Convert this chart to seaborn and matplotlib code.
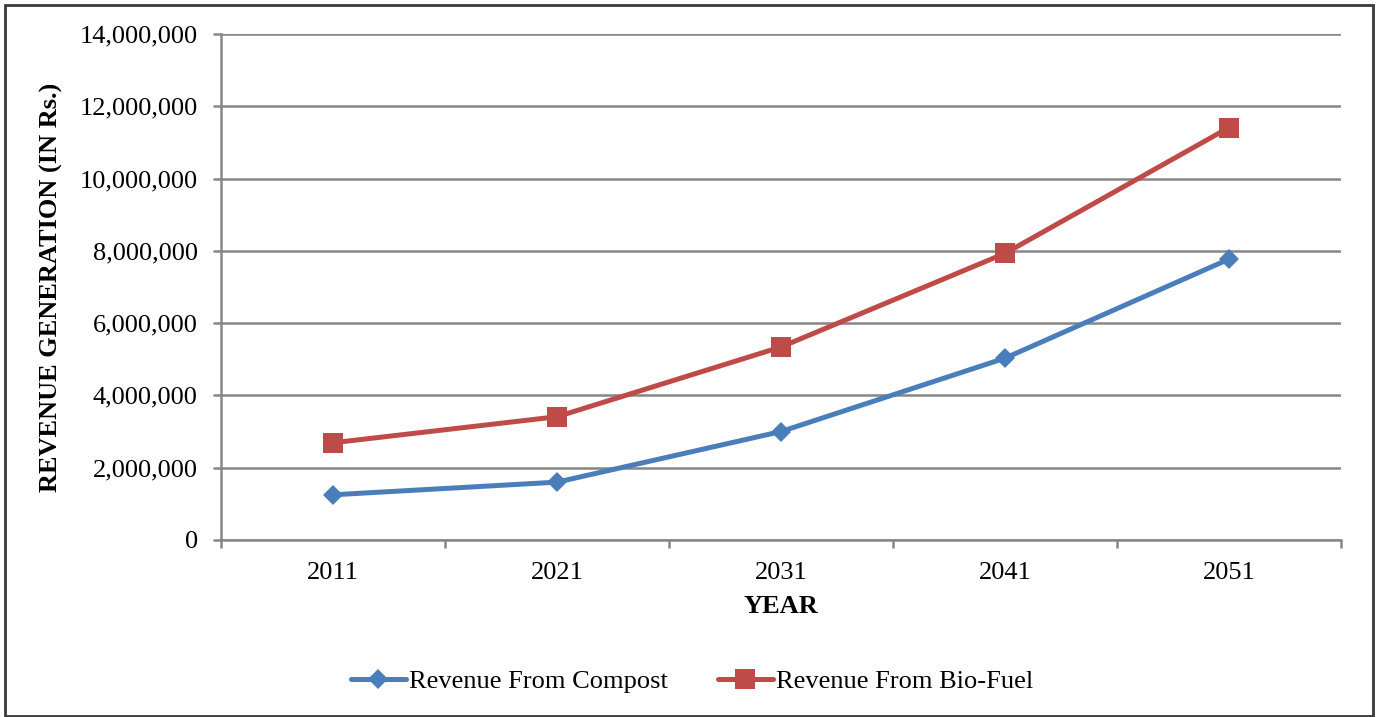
import numpy as np
import pandas as pd
import matplotlib
matplotlib.use("Agg")
import matplotlib.pyplot as plt
import seaborn as sns
from matplotlib.patches import Rectangle
from matplotlib.ticker import FuncFormatter, FixedLocator

years = ["2011", "2021", "2031", "2041", "2051"]
compost = [1250000, 1600000, 3000000, 5030000, 7770000]
biofuel = [2690000, 3410000, 5340000, 7930000, 11410000]

sns.set_style("white")
plt.rcParams["font.family"] = ["Liberation Serif", "DejaVu Serif"]
plt.rcParams["text.color"] = "black"
plt.rcParams["axes.labelcolor"] = "black"
plt.rcParams["xtick.labelcolor"] = "black"
plt.rcParams["ytick.labelcolor"] = "black"

fig = plt.figure(figsize=(13.78, 7.17), dpi=100)
ax = fig.add_axes([0.1604, 0.2469, 0.8127, 0.7057])

df = pd.DataFrame({"year": years, "Revenue From Compost": compost, "Revenue From Bio-Fuel": biofuel})

sns.lineplot(data=df, x="year", y="Revenue From Compost", ax=ax, color="#4A7EBB",
             linewidth=3.6, marker="D", markersize=10, markeredgewidth=0,
             label="Revenue From Compost", sort=False)
sns.lineplot(data=df, x="year", y="Revenue From Bio-Fuel", ax=ax, color="#BE4B48",
             linewidth=3.6, marker="s", markersize=14, markeredgewidth=0,
             label="Revenue From Bio-Fuel", sort=False)

ax.set_xlim(-0.5, 4.5)
ax.set_ylim(0, 14000000)
ax.set_yticks(np.arange(0, 14000001, 2000000))
ax.yaxis.set_major_formatter(FuncFormatter(lambda v, p: f"{int(v):,}"))
ax.yaxis.grid(True, color="#878787", linewidth=1.8)
ax.set_axisbelow(True)

# category ticks between groups, labels at centres
ax.xaxis.set_major_locator(FixedLocator(range(5)))
ax.xaxis.set_minor_locator(FixedLocator(np.arange(-0.5, 5, 1)))
ax.tick_params(axis="x", which="major", length=0, pad=16, labelsize=19)
ax.tick_params(axis="x", which="minor", length=5.8, width=1.8, color="#878787", direction="out")
ax.tick_params(axis="y", which="major", length=5.8, width=1.8, color="#878787", direction="out",
               labelsize=19, pad=11)
ax.tick_params(bottom=True, left=True, which="both")

for side in ["top", "right"]:
    ax.spines[side].set_visible(False)
for side in ["left", "bottom"]:
    ax.spines[side].set_color("#878787")
    ax.spines[side].set_linewidth(1.8)

ax.set_xlabel("YEAR", fontsize=19, fontweight="bold", labelpad=8)
ax.set_ylabel("REVENUE GENERATION (IN Rs.)", fontsize=19, fontweight="bold", labelpad=12)

ax.legend(loc="center", bbox_to_anchor=(0.502, 0.05), bbox_transform=fig.transFigure,
          ncol=2, frameon=False, fontsize=19, handlelength=2.1, handletextpad=0.1,
          columnspacing=1.9)

fig.patches.append(Rectangle((0.0036, 0.001), 0.9928, 0.992, transform=fig.transFigure,
                             fill=False, edgecolor="#3a3a3a", linewidth=2))

fig.savefig("out.png", dpi=100)
